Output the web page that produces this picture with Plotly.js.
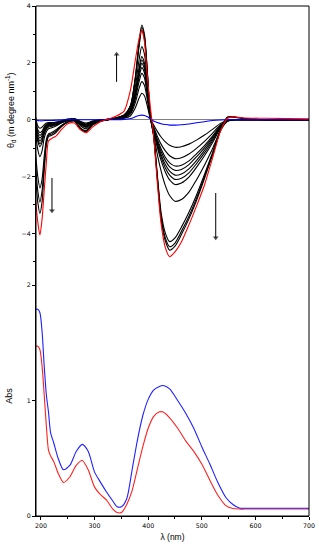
<!DOCTYPE html>
<html><head><meta charset="utf-8">
<script src="https://cdn.plot.ly/plotly-3.0.1.min.js"></script>
<style>html,body{margin:0;padding:0;background:#fff}#chart{width:319px;height:550px}</style>
</head><body><div id="chart"></div>
<script>
// ---- CD spectra (top panel) ----
const wavelengthCD = [190,194,198,202,206,210,214,220,228,238,250,262,274,284,296,310,325,
  340,355,367,376,383,388,393,398,404,
  410,417,424,432,440,450,462,476,490,505,520,535,548,560,580,620,700];
const cdStart = [-0.02,-0.03,-0.04,-0.04,-0.03,-0.03,-0.03,-0.03,-0.02,-0.01,0,0,0,0,0,0,0,
  0,0.01,0.04,0.1,0.15,0.16,0.15,0.11,0.03,
  -0.05,-0.1,-0.14,-0.17,-0.19,-0.19,-0.18,-0.15,-0.11,-0.07,-0.03,-0.01,0,0,0,0,0];
const cdStep1 = [0.1,-0.22,-0.3,-0.26,-0.18,-0.12,-0.1,-0.1,-0.08,-0.04,0.02,0.04,-0.06,-0.12,-0.05,0,0.01,
  0.02,0.05,0.14,0.42,0.76,0.93,0.84,0.51,0.04,
  -0.18,-0.41,-0.61,-0.78,-0.9,-0.97,-0.95,-0.86,-0.72,-0.54,-0.34,-0.13,-0.02,0,0,0,0];
const cdStep2 = [0.05,-0.35,-0.45,-0.4,-0.25,-0.16,-0.13,-0.13,-0.1,-0.05,0.01,0.03,-0.08,-0.15,-0.06,-0.01,0.01,
  0.03,0.07,0.2,0.6,1.1,1.34,1.21,0.74,0.06,
  -0.25,-0.58,-0.86,-1.1,-1.27,-1.37,-1.34,-1.21,-1.01,-0.76,-0.48,-0.18,-0.03,0,0,0,0];
const cdStep3 = [-0.15,-0.42,-0.55,-0.48,-0.3,-0.2,-0.16,-0.15,-0.12,-0.06,0,0.02,-0.1,-0.18,-0.08,-0.01,0.01,
  0.03,0.08,0.24,0.73,1.34,1.63,1.47,0.9,0.08,
  -0.3,-0.69,-1.02,-1.32,-1.52,-1.63,-1.6,-1.45,-1.2,-0.91,-0.58,-0.21,-0.03,0,0,0,0];
const cdStep4 = [-0.2,-0.5,-0.65,-0.56,-0.35,-0.23,-0.18,-0.17,-0.14,-0.07,-0.01,0.02,-0.12,-0.2,-0.09,-0.02,0.01,
  0.04,0.09,0.27,0.82,1.5,1.83,1.65,1.0,0.09,
  -0.32,-0.76,-1.12,-1.44,-1.66,-1.78,-1.75,-1.58,-1.31,-0.99,-0.63,-0.23,-0.04,0,0,0,0];
const cdStep5 = [-0.25,-0.6,-0.75,-0.64,-0.4,-0.26,-0.2,-0.19,-0.15,-0.08,-0.02,0.01,-0.14,-0.22,-0.1,-0.02,0.01,
  0.04,0.1,0.3,0.89,1.62,1.98,1.78,1.09,0.1,
  -0.35,-0.83,-1.22,-1.58,-1.81,-1.95,-1.91,-1.73,-1.44,-1.08,-0.69,-0.26,-0.04,0,0,0,0];
const cdStep6 = [-0.3,-0.68,-0.85,-0.72,-0.45,-0.3,-0.23,-0.21,-0.17,-0.09,-0.02,0.01,-0.16,-0.25,-0.11,-0.03,0,
  0.04,0.1,0.32,0.95,1.72,2.1,1.89,1.16,0.1,
  -0.38,-0.89,-1.31,-1.7,-1.95,-2.1,-2.06,-1.87,-1.55,-1.17,-0.74,-0.28,-0.04,0,0,0,0];
const cdStep7 = [-0.35,-0.76,-0.95,-0.8,-0.5,-0.33,-0.26,-0.23,-0.19,-0.1,-0.03,0,-0.18,-0.27,-0.12,-0.03,0,
  0.04,0.11,0.33,1.0,1.82,2.22,2.0,1.22,0.11,
  -0.41,-0.97,-1.43,-1.84,-2.12,-2.28,-2.23,-2.02,-1.68,-1.27,-0.81,-0.3,-0.05,0,0,0,0];
const cdStep8 = [-0.5,-1.05,-1.3,-1.1,-0.65,-0.42,-0.32,-0.28,-0.22,-0.12,-0.04,0,-0.22,-0.32,-0.14,-0.04,0,
  0.05,0.13,0.39,1.16,2.11,2.57,2.31,1.41,0.12,
  -0.52,-1.22,-1.8,-2.32,-2.67,-2.87,-2.81,-2.55,-2.12,-1.6,-1.02,-0.38,-0.06,0,0,0,0];
const cdStep9 = [-1.2,-2.0,-2.4,-2.1,-1.3,-0.7,-0.5,-0.45,-0.35,-0.2,-0.07,-0.03,-0.3,-0.38,-0.17,-0.05,0,
  0.06,0.16,0.47,1.42,2.58,3.15,2.84,1.73,0.1,
  -0.51,-1.93,-3.26,-3.99,-4.29,-4.16,-3.78,-3.26,-2.66,-1.93,-1.16,-0.34,0.09,0.09,0.04,0,0];
const cdStep10 = [-1.6,-2.5,-2.9,-2.5,-1.6,-0.8,-0.55,-0.5,-0.4,-0.22,-0.08,-0.04,-0.32,-0.4,-0.18,-0.05,0,
  0.06,0.16,0.49,1.46,2.67,3.25,2.93,1.79,0.1,
  -0.54,-2.01,-3.4,-4.16,-4.47,-4.34,-3.93,-3.4,-2.77,-2.01,-1.21,-0.36,0.09,0.09,0.04,0,0];
const cdStep11 = [-2.0,-2.9,-3.3,-2.9,-1.8,-0.9,-0.6,-0.55,-0.45,-0.25,-0.09,-0.05,-0.34,-0.42,-0.19,-0.06,0,
  0.07,0.17,0.5,1.5,2.73,3.33,3.0,1.83,0.1,
  -0.55,-2.07,-3.49,-4.27,-4.59,-4.45,-4.04,-3.49,-2.85,-2.07,-1.24,-0.37,0.09,0.09,0.04,0,0];
const cdEnd = [-2.8,-3.6,-4.06,-3.5,-2.5,-1.5,-0.75,-0.66,-0.58,-0.35,-0.14,-0.12,-0.36,-0.46,-0.26,-0.08,0.02,
  0.12,0.3,1.05,2.1,2.85,3.15,2.75,1.6,0.45,
  -0.55,-2.2,-3.65,-4.5,-4.82,-4.65,-4.3,-3.7,-3.05,-2.3,-1.35,-0.4,0.05,0.1,0.06,0.05,0.03];

// ---- UV-vis absorption (bottom panel) ----
const wavelengthUV = [190,194,198,202,206,210,214,218,224,232,242,254,266,277,288,300,310,322,334,342,350,
  360,370,380,390,400,410,420,428,440,455,470,485,500,515,530,545,558,570,580,620,700];
const absStart = [1.79,1.79,1.76,1.6,1.3,1.05,0.9,0.72,0.63,0.5,0.4,0.44,0.56,0.62,0.56,0.38,0.3,0.21,0.13,0.08,0.08,
  0.15,0.4,0.66,0.87,1.01,1.09,1.12,1.13,1.1,1.0,0.89,0.76,0.6,0.45,0.29,0.16,0.1,0.07,0.067,0.067,0.067];
const absEnd = [1.47,1.47,1.44,1.3,1.05,0.78,0.57,0.52,0.47,0.37,0.29,0.34,0.44,0.48,0.4,0.25,0.19,0.14,0.06,0.03,0.03,
  0.1,0.22,0.41,0.6,0.76,0.86,0.9,0.9,0.85,0.76,0.65,0.56,0.45,0.31,0.18,0.09,0.065,0.06,0.06,0.06,0.06];

const xTickVals = [200,300,400,500,600,700];
const cdTickVals = [-4,-2,0,2,4];
const absTickVals = [0,1,2];

// trend arrows (tail -> head), in data units
const arrowRiseX = [341,341];   const arrowRiseY = [1.33,2.30];
const arrowFallLX = [220.5,220.5]; const arrowFallLY = [-2.05,-3.2];
const arrowFallRX = [526,526];  const arrowFallRY = [-2.58,-4.15];

const blackSteps = [cdStep1,cdStep2,cdStep3,cdStep4,cdStep5,cdStep6,cdStep7,cdStep8,cdStep9,cdStep10,cdStep11];
const lineShape = {shape:'spline', smoothing:0.7};
const traces = [];
blackSteps.forEach((ys,i)=>{
  traces.push({x:wavelengthCD, y:ys, xaxis:'x', yaxis:'y2', mode:'lines', name:'step '+(i+1),
    line:Object.assign({color:'#000000', width:1.1}, lineShape), hoverinfo:'skip'});
});
traces.push({x:wavelengthCD, y:cdStart, xaxis:'x', yaxis:'y2', mode:'lines', name:'start',
  line:Object.assign({color:'#0000ff', width:1.1}, lineShape)});
traces.push({x:wavelengthCD, y:cdEnd, xaxis:'x', yaxis:'y2', mode:'lines', name:'end',
  line:Object.assign({color:'#ff0000', width:1.1}, lineShape)});
traces.push({x:wavelengthUV, y:absEnd, xaxis:'x', yaxis:'y', mode:'lines', name:'Abs end',
  line:Object.assign({color:'#ff2020', width:1.1}, lineShape)});
traces.push({x:wavelengthUV, y:absStart, xaxis:'x', yaxis:'y', mode:'lines', name:'Abs start',
  line:Object.assign({color:'#2020ff', width:1.1}, lineShape)});
[[arrowRiseX,arrowRiseY,'triangle-up'],[arrowFallLX,arrowFallLY,'triangle-down'],[arrowFallRX,arrowFallRY,'triangle-down']]
.forEach(([ax,ay,sym])=>{
  traces.push({x:ax, y:ay, xaxis:'x', yaxis:'y2', mode:'lines+markers', hoverinfo:'skip',
    line:{color:'#000', width:1}, marker:{symbol:['circle',sym], size:[0,5], color:'#000', line:{width:0}}});
});

const tickFont = {family:'DejaVu Sans, sans-serif', size:6.3, color:'#000'};
const titleFont = {family:'Liberation Sans, Arial, sans-serif', size:9, color:'#000'};
const split = 240/510;

const layout = {
  width:319, height:550,
  margin:{l:36, r:10, t:6, b:34, pad:0},
  paper_bgcolor:'#fff', plot_bgcolor:'#fff',
  showlegend:false,
  xaxis:{range:[190.7,700], domain:[0,1], anchor:'y', tickvals:xTickVals, ticks:'outside', ticklen:3, tickwidth:1,
    tickcolor:'#000', showline:true, linecolor:'#000', linewidth:1, showgrid:false, zeroline:false,
    tickfont:tickFont, minor:{dtick:50, tick0:0, ticks:'outside', ticklen:2, tickcolor:'#000', showgrid:false},
    title:{text:'λ (nm)', font:{family:'Liberation Sans, Arial, sans-serif', size:8.5, color:'#000'}, standoff:6}},
  yaxis:{domain:[0,split], range:[0,2.078], anchor:'x', tickvals:absTickVals, ticks:'outside', ticklen:3, tickwidth:1,
    tickcolor:'#000', showline:true, linecolor:'#000', linewidth:1, showgrid:false, zeroline:false,
    tickfont:tickFont,
    title:{text:'Abs', font:titleFont, standoff:12}},
  yaxis2:{domain:[split,1], range:[-5.5,4], anchor:'x', tickvals:cdTickVals, ticks:'outside', ticklen:3, tickwidth:1,
    tickcolor:'#000', showline:true, linecolor:'#000', linewidth:1, showgrid:false,
    zeroline:true, zerolinecolor:'#808080', zerolinewidth:1.6,
    tickfont:tickFont, minor:{dtick:1, tick0:0, ticks:'outside', ticklen:2, tickcolor:'#000', showgrid:false}},
  shapes:[{type:'rect', xref:'paper', yref:'paper', x0:0, x1:1, y0:0, y1:1, line:{color:'#000', width:1}, fillcolor:'rgba(0,0,0,0)'}],
  annotations:[
    {xref:'paper', yref:'paper', x:-0.095, y:0.796, xanchor:'center', yanchor:'middle', textangle:-90, showarrow:false,
     text:'θ<sub>d</sub> (m degree nm<sup>-1</sup>)', font:titleFont}
  ]
};
Plotly.newPlot('chart', traces, layout, {staticPlot:true, displayModeBar:false});
</script>
</body></html>
